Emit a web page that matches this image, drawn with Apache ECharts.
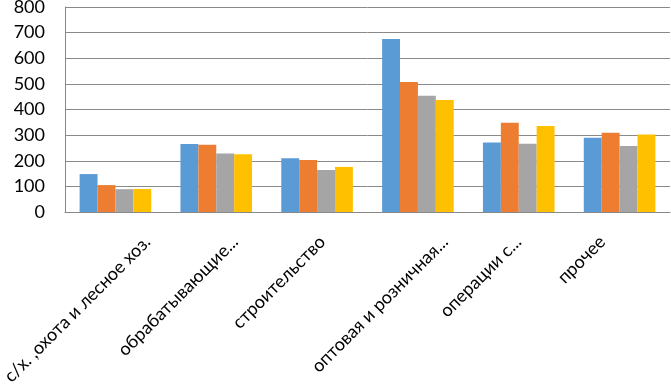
<!DOCTYPE html>
<html>
<head>
<meta charset="utf-8">
<script src="https://cdn.jsdelivr.net/npm/echarts@6/dist/echarts.min.js"></script>
<style>
  html, body { margin: 0; padding: 0; background: #fff; }
  #chart { width: 671px; height: 387px; }
</style>
</head>
<body>
<div id="chart"></div>
<script>
// categories as shown on the axis (already truncated in the source)
var categories = ['с/х. ,охота и лесное хоз.', 'обрабатывающие...', 'строительство',
  'оптовая и розничная...', 'операции с...', 'прочее'];

var series1 = [148, 265, 210, 675, 271, 290];
var series2 = [105, 262, 203, 507, 348, 309];
var series3 = [89, 228, 164, 454, 266, 258];
var series4 = [90, 225, 176, 437, 336, 302];

var colors = ['#5B9BD5', '#ED7D31', '#A5A5A5', '#FFC000'];
var labelFont = '18px Lato';

var chart = echarts.init(document.getElementById('chart'));

function bar(data, i) {
  return {
    type: 'bar',
    data: data,
    barGap: 0,
    barCategoryGap: '29%',
    itemStyle: { color: colors[i] },
    animation: false
  };
}

chart.setOption({
  backgroundColor: '#fff',
  animation: false,
  grid: { left: 65, right: 1, top: 7, bottom: 175, containLabel: false, outerBoundsMode: 'none' },
  xAxis: {
    type: 'category',
    data: categories,
    axisLine: { lineStyle: { color: '#888', width: 1 } },
    axisTick: { length: 5, lineStyle: { color: '#888' } },
    // labels are placed below as rotated texts, Excel-style (centred box, not end-anchored)
    axisLabel: { show: false }
  },
  yAxis: {
    type: 'value',
    min: 0,
    max: 800,
    interval: 100,
    axisLine: { show: true, lineStyle: { color: '#888' } },
    axisTick: { show: false },
    splitLine: { lineStyle: { color: '#8a8a8a', width: 1 } },
    axisLabel: {
      margin: 20,
      color: '#000',
      fontFamily: 'Lato',
      fontSize: 18
    }
  },
  series: [bar(series1, 0), bar(series2, 1), bar(series3, 2), bar(series4, 3)]
});

// rotated category labels
var ctx = document.createElement('canvas').getContext('2d');
ctx.font = labelFont;
var axisY = chart.convertToPixel({ yAxisIndex: 0 }, 0);
var texts = categories.map(function (name, i) {
  var cx = chart.convertToPixel({ xAxisIndex: 0 }, i);
  var w = ctx.measureText(name).width;
  return {
    type: 'text',
    x: cx - 38 + w / (2 * Math.SQRT2),
    y: axisY + 27,
    rotation: Math.PI / 4,
    style: {
      text: name,
      font: labelFont,
      fill: '#000',
      align: 'right',
      verticalAlign: 'middle'
    }
  };
});
chart.setOption({ graphic: texts });
</script>
</body>
</html>
